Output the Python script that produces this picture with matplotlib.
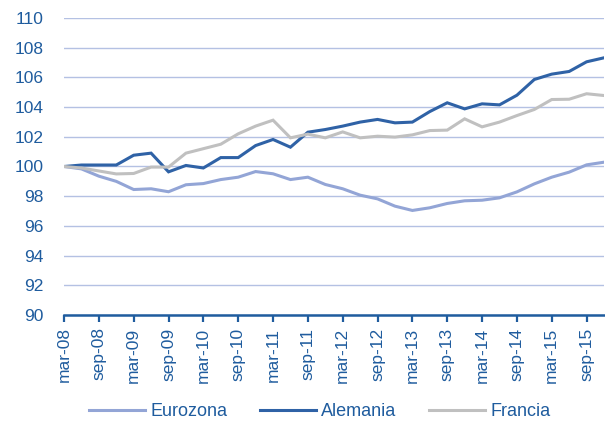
import numpy as np
import matplotlib
matplotlib.use('Agg')
from matplotlib import pyplot as plt


# quarterly index, base mar-08 = 100
quarters = ['mar', 'jun', 'sep', 'dic']
years = ['08', '09', '10', '11', '12', '13', '14', '15']
periods = [q + '-' + y for y in years for q in quarters]

eurozona = [100.0, 99.84, 99.35, 99.0, 98.45, 98.5, 98.3, 98.77, 98.85, 99.12,
            99.28, 99.66, 99.51, 99.12, 99.28, 98.79, 98.5, 98.07, 97.82, 97.33,
            97.04, 97.22, 97.51, 97.69, 97.73, 97.89, 98.29, 98.83, 99.28, 99.62,
            100.11, 100.29]
alemania = [100.0, 100.1, 100.1, 100.1, 100.76, 100.9, 99.64, 100.07, 99.9, 100.6,
            100.6, 101.41, 101.82, 101.3, 102.31, 102.49, 102.72, 102.99, 103.17, 102.94,
            102.99, 103.7, 104.29, 103.88, 104.22, 104.15, 104.8, 105.86, 106.22, 106.4,
            107.05, 107.32]
francia = [100.0, 99.9, 99.7, 99.5, 99.53, 99.96, 99.96, 100.9, 101.2, 101.5,
           102.2, 102.72, 103.12, 101.93, 102.18, 101.93, 102.33, 101.93, 102.04, 101.98,
           102.13, 102.42, 102.45, 103.21, 102.67, 102.99, 103.43, 103.84, 104.51, 104.53,
           104.9, 104.78]

series_names = ['Eurozona', 'Alemania', 'Francia']
series_colors = ['#93a5d6', '#2f62a6', '#c0c0c0']
text_color = '#1f5c9e'


def main():
    plt.rcParams['font.family'] = ['Liberation Sans', 'DejaVu Sans']

    fig = plt.figure(figsize=(6.05, 4.26), dpi=100)
    ax = fig.add_axes([64 / 605, 1 - 315 / 426, 540 / 605, 297 / 426])

    x = np.arange(len(periods))
    for vals, name, col in zip([eurozona, alemania, francia], series_names, series_colors):
        ax.plot(x, vals, color=col, lw=2.2, label=name, solid_joinstyle='miter')

    ax.set_xlim(0, len(periods) - 1)
    ax.set_ylim(90, 110)
    ax.set_yticks(np.arange(90, 111, 2))
    ax.yaxis.grid(True, color='#b4c1e3', lw=1.0)
    ax.set_axisbelow(True)

    ax.set_xticks(x[::2])
    ax.set_xticklabels(periods[::2], rotation=90)

    for s in ['top', 'right', 'left']:
        ax.spines[s].set_visible(False)
    ax.spines['bottom'].set_color(text_color)
    ax.spines['bottom'].set_linewidth(1.8)
    ax.spines['bottom'].set_zorder(5)

    ax.tick_params(axis='x', colors=text_color, labelsize=12.5, length=5,
                   width=1.6, direction='out', pad=4)
    ax.tick_params(axis='y', colors=text_color, labelsize=12.5, length=0, pad=15)

    leg = fig.legend(loc='center', bbox_to_anchor=(0.528, 1 - 412 / 426), ncol=3, frameon=False,
                     fontsize=13, handlelength=3.1, columnspacing=1.8, handletextpad=0.3)
    for t in leg.get_texts():
        t.set_color(text_color)

    fig.savefig('out.png', dpi=100)


if __name__ == '__main__':
    main()
